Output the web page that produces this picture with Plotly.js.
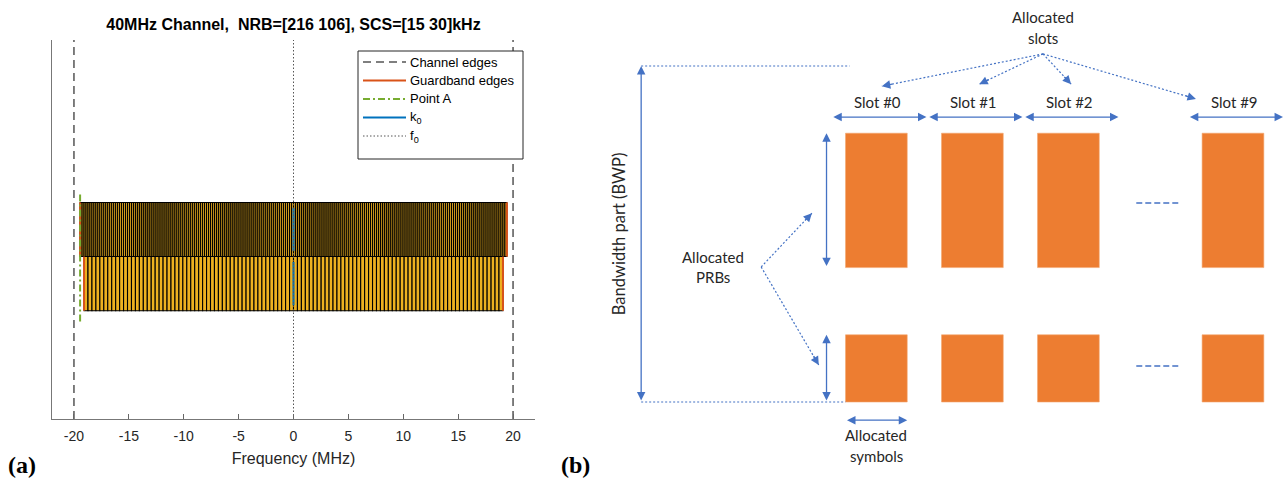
<!DOCTYPE html>
<html><head><meta charset="utf-8">
<script src="https://cdn.plot.ly/plotly-3.0.1.min.js"></script>
<style>html,body{margin:0;padding:0;background:#fff}#chart{width:1285px;height:481px}</style>
</head><body><div id="chart"></div><script>
// ---------- Panel (a) data ----------
const channelBW = 40;              // MHz
const NRB = [216, 106];
const SCS = [15, 30];              // kHz
const rowBase = [1, 0];            // grid row of each SCS carrier
const pointA = -19.44;             // MHz
const k0 = [0, 0];                 // MHz, per carrier
const f0 = 0;                      // MHz
const xTicks = [-20, -15, -10, -5, 0, 5, 10, 15, 20];
const xTickText = ['-20', '-15', '-10', '-5', '0', '5', '10', '15', '20'];

// ---------- Panel (b) data ----------
const slotNumbers = [0, 1, 2, 9];
const slotLabels = ['Slot #0', 'Slot #1', 'Slot #2', 'Slot #9'];
const symbolsPerSlot = 14;
const allocSymbols = [2, 11];      // first / last+1 symbol in slot
const bwpPRBs = 100;
const prbStart = [0, 40];
const prbEnd = [20, 80];

// ---------- build panel (a) ----------
const W = 1285, H = 481;
const yLo = -2, yHi = 5;
const FONT_A = 'Liberation Sans, Arial, Helvetica, sans-serif';
const traces = [];
const halfBW = [];
for (let r = 0; r < NRB.length; r++) {
  const w = 12 * SCS[r] / 1000;
  const half = NRB[r] * w / 2;
  halfBW.push(half);
  const xs = [], hs = [];
  for (let j = 0; j < NRB[r]; j++) { xs.push(-half + w * (j + 0.5)); hs.push(1); }
  traces.push({
    type: 'bar', x: xs, y: hs, base: rowBase[r], width: w,
    marker: {color: '#EDB120', line: {color: '#000000', width: 1.1}},
    showlegend: false, hoverinfo: 'skip', xaxis: 'x', yaxis: 'y'
  });
}
const lineTraces = [];
const edge = channelBW / 2;
lineTraces.push({type: 'scatter', mode: 'lines', name: 'Channel edges',
  x: [-edge, -edge, null, edge, edge], y: [yLo, yHi, null, yLo, yHi],
  line: {color: '#555555', width: 1.5, dash: '8px,5px'}});
const gx = [], gy = [];
for (let r = 0; r < NRB.length; r++) {
  gx.push(-halfBW[r], -halfBW[r], null, halfBW[r], halfBW[r], null);
  gy.push(rowBase[r], rowBase[r] + 1, null, rowBase[r], rowBase[r] + 1, null);
}
lineTraces.push({type: 'scatter', mode: 'lines', name: 'Guardband edges', x: gx, y: gy,
  line: {color: '#D95319', width: 2}});
lineTraces.push({type: 'scatter', mode: 'lines', name: 'Point A',
  x: [pointA, pointA], y: [-0.2, 2.2],
  line: {color: '#77AC30', width: 2, dash: '7px,3px,2px,3px'}});
const kx = [], ky = [];
for (let r = 0; r < NRB.length; r++) {
  kx.push(k0[r], k0[r], null);
  ky.push(rowBase[r] + 0.1, rowBase[r] + 0.9, null);
}
lineTraces.push({type: 'scatter', mode: 'lines', name: 'k<sub>0</sub>', x: kx, y: ky,
  line: {color: '#0072BD', width: 2}});
lineTraces.push({type: 'scatter', mode: 'lines', name: 'f<sub>0</sub>',
  x: [f0, f0], y: [yLo, yHi],
  line: {color: '#555555', width: 1, dash: '1.5px,2px'}});
lineTraces.forEach(t => { t.showlegend = false; t.hoverinfo = 'skip'; traces.push(t); });

const shapes = [];
const annotations = [];

// legend box (drawn from the line traces above)
const LG = {x0: 358, x1: 523, y0: 51, y1: 159, s0: 363, s1: 406, tx: 408, rows: [62, 80.5, 99, 117.5, 136]};
shapes.push({type: 'rect', xref: 'paper', yref: 'paper', layer: 'above',
  x0: LG.x0 / W, x1: LG.x1 / W, y0: (H - LG.y0) / H, y1: (H - LG.y1) / H,
  fillcolor: '#ffffff', line: {color: '#262626', width: 1}});
lineTraces.forEach((t, i) => {
  const yy = (H - LG.rows[i]) / H;
  shapes.push({type: 'line', xref: 'paper', yref: 'paper', layer: 'above',
    x0: LG.s0 / W, x1: LG.s1 / W, y0: yy, y1: yy, line: t.line});
  annotations.push({xref: 'paper', yref: 'paper', x: LG.tx / W, y: yy, xanchor: 'left', yanchor: 'middle',
    text: t.name, showarrow: false, font: {family: FONT_A, size: 13, color: '#000'}});
});

// ---------- build panel (b) ----------
const BLUE = '#4472C4', ORANGE = '#ED7D31';
const FONT_B = 'Lato, Open Sans, sans-serif';
const X2R = [-33, 66], X2D = [605.5, 1284.4], Y2R = [-23.51, 119.64];
const sx = (X2D[1] - X2D[0]) / (X2R[1] - X2R[0]);
const sy = H / (Y2R[1] - Y2R[0]);
const gapSym = 10;
const slotStart = slotNumbers.map((n, i) => i * symbolsPerSlot + (n !== i ? gapSym : 0));
const blockW = allocSymbols[1] - allocSymbols[0];
for (let g = 0; g < prbStart.length; g++) {
  traces.push({
    type: 'bar', xaxis: 'x2', yaxis: 'y2', showlegend: false, hoverinfo: 'skip',
    x: slotStart.map(s => s + allocSymbols[0] + blockW / 2),
    y: slotStart.map(() => prbEnd[g] - prbStart[g]),
    base: prbStart[g], width: blockW,
    marker: {color: ORANGE, line: {color: '#F4A66E', width: 0.6}}
  });
}

function dotted(x0, y0, x1, y1, head) {
  shapes.push({type: 'line', xref: 'x2', yref: 'y2', x0, y0, x1, y1,
    line: {color: BLUE, width: 1.2, dash: '2px,2px'}});
  if (head) {
    const dxp = (x0 - x1) * sx, dyp = -(y0 - y1) * sy;
    const len = Math.hypot(dxp, dyp);
    annotations.push({xref: 'x2', yref: 'y2', text: '',
      x: x1, y: y1, ax: dxp * 12 / len, ay: dyp * 12 / len,
      showarrow: true, arrowhead: 2, arrowsize: 1.3, arrowwidth: 1.3, arrowcolor: BLUE});
  }
}
function dbl(x0, y0, x1, y1) {
  annotations.push({xref: 'x2', yref: 'y2', axref: 'x2', ayref: 'y2', text: '',
    x: x1, y: y1, ax: x0, ay: y0, showarrow: true, arrowside: 'end+start',
    arrowhead: 2, startarrowhead: 2, arrowsize: 1.3, startarrowsize: 1.3,
    arrowwidth: 1.3, arrowcolor: BLUE});
}
function label(x, y, text, size, angle) {
  annotations.push({xref: 'x2', yref: 'y2', x, y, text, showarrow: false,
    textangle: angle || 0, font: {family: FONT_B, size: size || 15, color: '#262626'}});
}
// BWP
const bwpX = -27.8;
dotted(bwpX, bwpPRBs, 2.6, bwpPRBs, false);
dotted(bwpX, 0, allocSymbols[0], 0, false);
dbl(bwpX, 0, bwpX, bwpPRBs);
label(-31.0, bwpPRBs / 2, 'Bandwidth part (BWP)', 16.5, -90);
// PRB extents
for (let g = 0; g < prbStart.length; g++) dbl(-0.77, prbStart[g], -0.77, prbEnd[g]);
label(-17.3, 43.2, 'Allocated');
label(-17.3, 37.2, 'PRBs');
dotted(-10.3, 40.2, -2.9, 56.2, true);
dotted(-10.3, 40.2, -1.9, 11.0, true);
// slots
const slotArrowY = 84.8;
slotStart.forEach((s, i) => {
  dbl(s, slotArrowY, s + symbolsPerSlot - 0.2, slotArrowY);
  label(s + symbolsPerSlot / 2 - 0.3, 89.4, slotLabels[i]);
});
label(30.8, 114.6, 'Allocated');
label(30.8, 108.4, 'slots');
const fanTips = [[7.3, 94.0], [21.5, 94.6], [34.9, 94.6], [53.1, 90.2]];
fanTips.forEach(t => dotted(30.8, 103.6, t[0], t[1], true));
// ellipsis between slot #2 and slot #9
const ellX0 = slotStart[2] + symbolsPerSlot + 2.4, ellX1 = slotStart[3] - 1.2;
shapes.push({type: 'line', xref: 'x2', yref: 'y2', x0: ellX0, x1: ellX1, y0: 59.2, y1: 59.2,
  line: {color: BLUE, width: 1.5, dash: '6px,3px'}});
shapes.push({type: 'line', xref: 'x2', yref: 'y2', x0: ellX0, x1: ellX1, y0: 10.7, y1: 10.7,
  line: {color: BLUE, width: 1.5, dash: '6px,3px'}});
// symbols
dbl(allocSymbols[0], -5.4, allocSymbols[1], -5.4);
label(6.5, -9.8, 'Allocated');
label(6.5, -16.1, 'symbols');

// panel letters
annotations.push({xref: 'paper', yref: 'paper', x: 22 / W, y: (H - 465) / H, xanchor: 'center', yanchor: 'middle',
  text: '<b>(a)</b>', showarrow: false,
  font: {family: 'Liberation Serif, Times New Roman, serif', size: 24, color: '#000'}});
annotations.push({xref: 'paper', yref: 'paper', x: 575 / W, y: (H - 465) / H, xanchor: 'center', yanchor: 'middle',
  text: '<b>(b)</b>', showarrow: false,
  font: {family: 'Liberation Serif, Times New Roman, serif', size: 24, color: '#000'}});

const layout = {
  width: W, height: H, margin: {l: 0, r: 0, t: 0, b: 0},
  paper_bgcolor: '#fff', plot_bgcolor: 'rgba(0,0,0,0)',
  barmode: 'overlay', showlegend: false,
  font: {family: FONT_A, color: '#262626'},
  title: {text: '40MHz Channel,\u00A0 NRB=[216 106], SCS=[15 30]kHz', xref: 'paper', yref: 'paper',
    x: 293.5 / W, xanchor: 'center', y: (H - 24) / H, yanchor: 'middle',
    font: {family: FONT_A, size: 16, color: '#000', weight: 'bold'}},
  xaxis: {domain: [52 / W, 535 / W], range: [-22, 22], anchor: 'y',
    tickvals: xTicks, ticktext: xTickText, ticks: 'inside', ticklen: 5, tickwidth: 1, tickcolor: '#666',
    ticklabelstandoff: 4,
    showline: true, linecolor: '#777', linewidth: 1, showgrid: false, zeroline: false,
    tickfont: {size: 14, color: '#262626'}, fixedrange: true,
    title: {text: 'Frequency (MHz)', font: {size: 16, color: '#262626'}, standoff: 10}},
  yaxis: {domain: [62 / H, 441 / H], range: [yLo, yHi], anchor: 'x',
    showline: true, linecolor: '#777', linewidth: 1, ticks: '', showticklabels: false,
    showgrid: false, zeroline: false, fixedrange: true},
  xaxis2: {domain: [X2D[0] / W, X2D[1] / W], range: X2R, anchor: 'y2', visible: false, fixedrange: true},
  yaxis2: {domain: [0, 1], range: Y2R, anchor: 'x2', visible: false, fixedrange: true},
  shapes, annotations
};
Plotly.newPlot('chart', traces, layout, {displayModeBar: false, staticPlot: true});
</script></body></html>
